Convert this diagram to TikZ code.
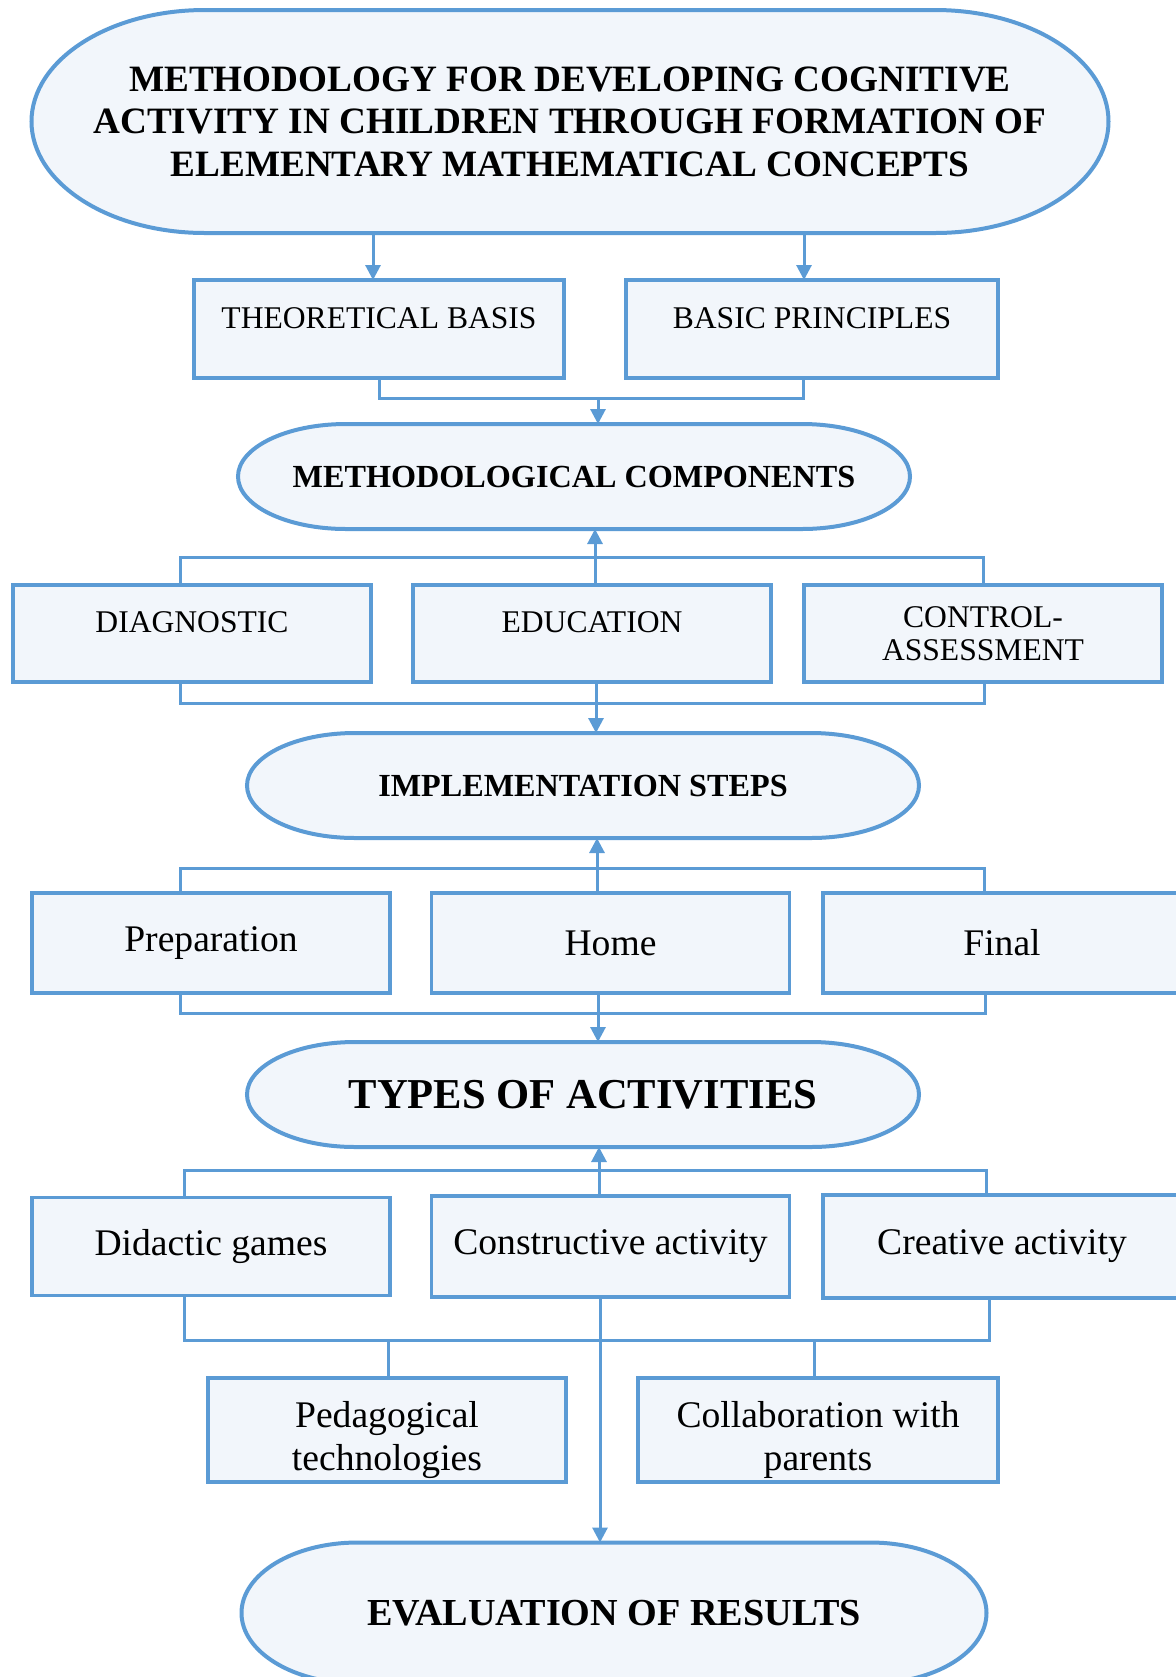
\documentclass[tikz,border=0pt]{standalone}
\usepackage{fontspec}
\setmainfont{Liberation Serif}
\usepackage{tikz}
\usetikzlibrary{positioning,arrows.meta,backgrounds}

\definecolor{lineblue}{RGB}{91,155,213}
\definecolor{fillblue}{RGB}{242,246,251}

% terminator outline round a node: name, x radius, y radius
\newcommand{\termshape}[3]{%
	\filldraw[termline] ([xshift=#2]#1.north west) -- ([xshift=-#2]#1.north east)
		arc[start angle=90, end angle=-90, x radius=#2, y radius=#3]
		-- ([xshift=#2]#1.south west)
		arc[start angle=270, end angle=90, x radius=#2, y radius=#3] -- cycle;}

\begin{document}
\begin{tikzpicture}[on grid,
	box/.style={draw=lineblue,fill=fillblue,line width=1.8pt,minimum width=179pt,minimum height=49pt,
		inner sep=0pt,outer sep=0pt,align=center,font=\fontsize{18.8}{21.5}\selectfont},
	capbox/.style={box,minimum height=48.5pt,font=\fontsize{15.8}{16.5}\selectfont},
	raised/.style={text depth=11pt},
	lowered/.style={text height=44.5pt},
	term/.style={inner sep=0pt,outer sep=0pt,align=center,minimum width=336pt,minimum height=52.5pt,
		font=\bfseries\fontsize{16.1}{19}\selectfont},
	termline/.style={draw=lineblue,fill=fillblue,line width=2pt},
	line/.style={draw=lineblue,line width=1.5pt},
	arr/.style={line,-{Triangle[length=7.5pt,width=7.5pt]}}]
	\useasboundingbox (0,0) rectangle (588pt,-838.5pt);
	\node[term,minimum width=538.5pt,minimum height=111.5pt,font=\bfseries\fontsize{18.6}{21.25}\selectfont] (top) at (285pt,-60.75pt) {METHODOLOGY FOR DEVELOPING COGNITIVE\\ACTIVITY IN CHILDREN THROUGH FORMATION OF\\ELEMENTARY MATHEMATICAL CONCEPTS};
	\node[capbox,raised,minimum width=185pt,minimum height=49pt] (theo) [below left=103.75pt and 95.5pt of top] {THEORETICAL BASIS};
	\node[capbox,raised,minimum width=186pt,minimum height=49pt] (basic) [right=216.5pt of theo] {BASIC PRINCIPLES};
	\node[term] (meth) [below right=177.5pt and 2pt of top] {METHODOLOGICAL COMPONENTS};
	\node[capbox,raised] (edu) [below right=78.5pt and 9pt of meth] {EDUCATION};
	\node[capbox,raised] (diag) [left=200pt of edu] {DIAGNOSTIC};
	\node[capbox] (ctrl) [right=195.5pt of edu] {CONTROL-\\ASSESSMENT};
	\node[term] (impl) [below right=154.5pt and 4.5pt of meth] {IMPLEMENTATION STEPS};
	\node[box,minimum height=50pt] (home) [below right=78.75pt and 13.75pt of impl] {Home};
	\node[box,minimum height=50pt] (prep) [left=199.75pt of home] {Preparation};
	\node[box,minimum height=50pt] (final) [right=195.75pt of home] {Final};
	\node[term,font=\bfseries\fontsize{21.3}{25}\selectfont] (types) [below=154.5pt of impl] {TYPES OF ACTIVITIES};
	\node[box,minimum height=50.5pt] (constr) [below right=76pt and 13.75pt of types] {Constructive activity};
	\node[box] (did) [left=199.75pt of constr] {Didactic games};
	\node[box,minimum height=51.5pt] (creat) [right=195.75pt of constr] {Creative activity};
	\node[box,lowered,minimum height=52pt] (ped) [below left=91.75pt and 111.75pt of constr] {Pedagogical\\technologies};
	\node[box,lowered,minimum width=180pt,minimum height=52pt] (collab) [below right=91.75pt and 103.75pt of constr] {Collaboration with\\parents};
	\node[term,minimum width=372.5pt,minimum height=70.5pt,font=\bfseries\fontsize{19.1}{22}\selectfont] (eval) [below right=183.25pt and 1.75pt of constr] {EVALUATION OF RESULTS};
	\begin{scope}[on background layer]
		\termshape{top}{86.7pt}{55.75pt}
		\termshape{meth}{54pt}{26.25pt}
		\termshape{impl}{54pt}{26.25pt}
		\termshape{types}{54pt}{26.25pt}
		\termshape{eval}{58pt}{35.25pt}
	\end{scope}
	% title to basis and principles
	\draw[arr] ([xshift=-98.5pt]top.south) -- ([xshift=-3pt]theo.north);
	\draw[arr] ([xshift=117pt]top.south) -- ([xshift=-4pt]basic.north);
	\draw[line] (theo.south) -- ++(0,-10pt) -| ([xshift=-4.5pt]basic.south);
	\coordinate (tbjoin) at ([xshift=12pt,yshift=13pt]meth.north);
	\draw[arr] (tbjoin) -- ([xshift=12pt]meth.north);
	% components
	\draw[line] ([xshift=-6pt]diag.north) -- ++(0,14pt) -| (ctrl.north);
	\draw[line] ([xshift=-6pt]diag.south) -- ++(0,-10.5pt) -| ([xshift=0.5pt]ctrl.south);
	\draw[arr] ([xshift=1.5pt]edu.north) -- ([xshift=10.5pt]meth.south);
	\draw[arr] ([xshift=2pt]edu.south) -- ([xshift=6.5pt]impl.north);
	% steps
	\draw[line] ([xshift=-15.5pt]prep.north) -- ++(0,12.5pt) -| ([xshift=-9pt]final.north);
	\draw[line] ([xshift=-15.5pt]prep.south) -- ++(0,-10pt) -| ([xshift=-8.5pt]final.south);
	\draw[arr] ([xshift=-6.75pt]home.north) -- ([xshift=7pt]impl.south);
	\draw[arr] ([xshift=-6.25pt]home.south) -- ([xshift=7.5pt]types.north);
	% activities
	\draw[line] ([xshift=-13.5pt]did.north) -- ++(0,13.75pt) -| ([xshift=-8pt]creat.north);
	\draw[line] ([xshift=-13.5pt]did.south) -- ++(0,-22.25pt) -| ([xshift=-6.5pt]creat.south);
	\draw[line] ([xshift=0.75pt]ped.north) -- ++(0,19pt);
	\draw[line] ([xshift=-2pt]collab.north) -- ++(0,19pt);
	\draw[arr] ([xshift=-5.75pt]constr.north) -- ([xshift=8pt]types.south);
	\draw[arr] ([xshift=-5.25pt]constr.south) -- ([xshift=-7pt]eval.north);
\end{tikzpicture}
\end{document}
